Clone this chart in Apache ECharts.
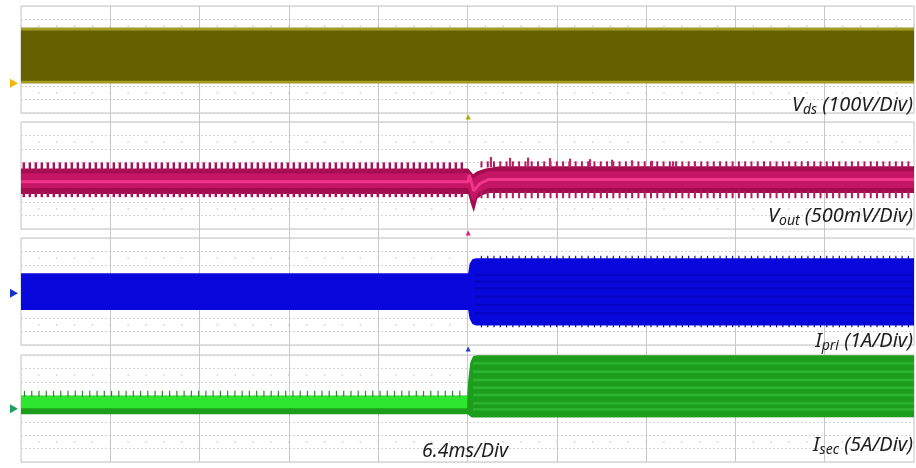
<!DOCTYPE html>
<html>
<head>
<meta charset="utf-8">
<script src="https://cdn.jsdelivr.net/npm/echarts@6/dist/echarts.min.js"></script>
<style>
html, body { margin: 0; padding: 0; background: #fff; }
#main { width: 916px; height: 468px; }
</style>
</head>
<body>
<div id="main"></div>
<script>
// time base: 10 div x 6.4 ms, load step at the trigger
var tMax = 64, tDiv = 6.4, trigT = 32.05;

// per channel: units per div and ground position (div from panel bottom)
var chLabel = ['Vds', 'Vout', 'Ipri', 'Isec'];
var perDiv = [100, 500, 1, 5];
var zeroDiv = [2.22, 3.66, 3.87, 3.98];

// Vds (V)
var vdsUp = [[0, 416], [64, 416]];
var vdsLo = [[0, 0], [64, 0]];
var vdsEdge = [405, 10];

// Vout ripple (mV around set point)
var voutUp = [[0, 430], [32.05, 430], [32.4, 220], [32.7, 330], [33.3, 430], [34.3, 520], [64, 520]];
var voutLo = [[0, -520], [32.05, -520], [32.25, -900], [32.45, -1200], [32.7, -700], [33.0, -580], [33.5, -480], [64, -480]];
var voutInUp = [[0, 250], [32.05, 250], [32.4, 60], [32.8, 200], [33.5, 330], [64, 330]];
var voutInLo = [[0, -300], [32.05, -300], [32.3, -700], [32.5, -800], [32.8, -450], [33.5, -300], [64, -300]];
var voutMid = [[0, -60], [32.05, -60], [32.12, 200], [32.45, -400], [32.9, -120], [33.5, 20], [64, 20]];
var voutBigT = [33.68, 35.05, 36.34, 37.91, 39.35, 40.78, 42.36, 43.79, 45.22, 46.73, 48.3];
var voutBigHi = [860, 830, 840, 820, 800, 780, 760, 740, 720, 700, 690];

// switching instants seen as spikes
var swBefore = [0.2, 0.63, 1.06, 1.49, 1.92, 2.35, 2.78, 3.21, 3.64, 4.07, 4.5, 4.93, 5.36, 5.79, 6.22, 6.65,
  7.08, 7.51, 7.94, 8.37, 8.8, 9.23, 9.66, 10.09, 10.52, 10.95, 11.38, 11.81, 12.24, 12.67, 13.1, 13.53,
  13.96, 14.39, 14.82, 15.25, 15.68, 16.11, 16.54, 16.97, 17.4, 17.83, 18.26, 18.69, 19.12, 19.55, 19.98,
  20.41, 20.84, 21.27, 21.7, 22.13, 22.56, 22.99, 23.42, 23.85, 24.28, 24.71, 25.14, 25.57, 26.0, 26.43,
  26.86, 27.29, 27.72, 28.15, 28.58, 29.01, 29.44, 29.87, 30.3, 30.73, 31.16, 31.59];
var swAfter = [33.0, 33.45, 33.9, 34.35, 34.8, 35.25, 35.7, 36.15, 36.6, 37.05, 37.5, 37.95, 38.4, 38.85,
  39.3, 39.75, 40.2, 40.65, 41.1, 41.55, 42.0, 42.45, 42.9, 43.35, 43.8, 44.25, 44.7, 45.15, 45.6, 46.05,
  46.5, 46.95, 47.4, 47.85, 48.3, 48.75, 49.2, 49.65, 50.1, 50.55, 51.0, 51.45, 51.9, 52.35, 52.8, 53.25,
  53.7, 54.15, 54.6, 55.05, 55.5, 55.95, 56.4, 56.85, 57.3, 57.75, 58.2, 58.65, 59.1, 59.55, 60.0, 60.45,
  60.9, 61.35, 61.8, 62.25, 62.7, 63.15, 63.6];
var isecTicks = [0.25, 0.77, 1.29, 1.81, 2.33, 2.85, 3.37, 3.89, 4.41, 4.93, 5.45, 5.97, 6.49, 7.01, 7.53,
  8.05, 8.57, 9.09, 9.61, 10.13, 10.65, 11.17, 11.69, 12.21, 12.73, 13.25, 13.77, 14.29, 14.81, 15.33,
  15.85, 16.37, 16.89, 17.41, 17.93, 18.45, 18.97, 19.49, 20.01, 20.53, 21.05, 21.57, 22.09, 22.61, 23.13,
  23.65, 24.17, 24.69, 25.21, 25.73, 26.25, 26.77, 27.29, 27.81, 28.33, 28.85, 29.37, 29.89, 30.41, 30.93, 31.45];

// Ipri (A)
var ipriUp = [[0, 1.5], [32.05, 1.5], [32.15, 2.2], [32.35, 2.55], [32.6, 2.62], [64, 2.62]];
var ipriLo = [[0, -1.25], [32.05, -1.25], [32.15, -1.9], [32.35, -2.3], [32.6, -2.41], [64, -2.41]];
var ipriStripe = [1.37, 0.87, 0.37, -0.25, -0.87, -1.5];

// Isec (A)
var isecUp = [[0, 4.86], [31.98, 4.86], [32.05, 10.6], [32.2, 17.3], [32.4, 19.6], [32.7, 20], [64, 20]];
var isecLo = [[0, -2.09], [32.0, -2.09], [32.3, -3.3], [64, -3.21]];
var isecBrightUp = [[0, 4.86], [31.98, 4.86]];
var isecBrightLo = [[0, 0.15], [31.98, 0.15]];
var isecStripe = [16.97, 13.83, 10.73, 7.85, 5.12, 2.02, -0.22];

var panelTop = [6, 122, 238, 355], panelH = 107;
var gridL = 21, gridW = 893;
var minorRows = [1.5, 6.5];

var chart = echarts.init(document.getElementById('main'));

function toDiv(ch, v) { return v / perDiv[ch] + zeroDiv[ch]; }
function pts(ch, arr) { return arr.map(function (d) { return [d[0], toDiv(ch, d[1])]; }); }

// filled envelope between upper and lower traces
function band(ch, up, lo, color, z) {
  var U = pts(ch, up), L = pts(ch, lo).reverse();
  return {
    type: 'custom', xAxisIndex: ch, yAxisIndex: ch, z: z, silent: true,
    data: [[0, 0]],
    renderItem: function (p, api) {
      var poly = U.concat(L).map(function (d) { return api.coord(d); });
      return { type: 'polygon', shape: { points: poly }, style: { fill: color } };
    }
  };
}

// straight segments [t1, v1, t2, v2]
function segs(ch, list, color, w, z) {
  return {
    type: 'custom', xAxisIndex: ch, yAxisIndex: ch, z: z, silent: true,
    data: list.map(function (s) { return [s[0], toDiv(ch, s[1]), s[2], toDiv(ch, s[3])]; }),
    encode: { x: [0, 2], y: [1, 3] },
    renderItem: function (p, api) {
      var a = api.coord([api.value(0), api.value(1)]);
      var b = api.coord([api.value(2), api.value(3)]);
      return { type: 'line', shape: { x1: a[0], y1: a[1], x2: b[0], y2: b[1] }, style: { stroke: color, lineWidth: w } };
    }
  };
}
function spikes(ch, times, base, tip) {
  return times.map(function (t, i) { return [t, base, t, Array.isArray(tip) ? tip[i] : tip]; });
}
function stripes(ch, levels, t0) {
  return levels.map(function (l) { return [t0, l, tMax, l]; });
}
function trace(ch, arr, color, w, z) {
  return {
    type: 'line', xAxisIndex: ch, yAxisIndex: ch, z: z, silent: true, symbol: 'none',
    data: pts(ch, arr), lineStyle: { color: color, width: w }
  };
}

var grids = [], xAxes = [], yAxes = [], series = [];
for (var i = 0; i < 4; i++) {
  grids.push({ left: gridL, top: panelTop[i], width: gridW, height: panelH, show: true,
    borderColor: '#c2c2c2', borderWidth: 1, backgroundColor: 'transparent' });
  xAxes.push({ gridIndex: i, type: 'value', min: 0, max: tMax, interval: tDiv, show: false });
  yAxes.push({ gridIndex: i, type: 'value', min: 0, max: 8, interval: 1,
    axisLine: { show: false }, axisTick: { show: false }, axisLabel: { show: false },
    splitLine: { show: true, lineStyle: { color: '#d4d4d4', width: 1, type: [2, 2] } } });
  minorRows.forEach(function (r) {
    series.push({ type: 'line', xAxisIndex: i, yAxisIndex: i, z: 1, silent: true, symbol: 'none',
      data: [[0, r], [tMax, r]],
      lineStyle: { color: '#c4c4c4', width: 1.3, type: [1.4, 16.46], dashOffset: 0.7 } });
  });
}
// vertical divisions run through all panels
grids.push({ left: gridL, top: panelTop[0], width: gridW, height: panelTop[3] + panelH - panelTop[0], show: false });
xAxes.push({ gridIndex: 4, type: 'value', min: 0, max: tMax, interval: tDiv,
  axisLine: { show: false }, axisTick: { show: false }, axisLabel: { show: false },
  splitLine: { show: true, showMinLine: false, showMaxLine: false, lineStyle: { color: '#c8c8c8', width: 1 } } });
yAxes.push({ gridIndex: 4, type: 'value', min: 0, max: 1, show: false });

// Vds
series.push(band(0, vdsUp, vdsLo, '#666000', 3));
series.push(trace(0, [[0, vdsEdge[0]], [tMax, vdsEdge[0]]], '#a39d22', 2.6, 4));
series.push(trace(0, [[0, vdsEdge[1]], [tMax, vdsEdge[1]]], '#a39d22', 2.6, 4));

// Vout
series.push(band(1, voutUp, voutLo, '#a30d50', 3));
series.push(band(1, voutInUp, voutInLo, '#c51565', 4));
series.push(segs(1, spikes(1, swBefore, 300, 660).concat(spikes(1, swBefore, -420, -640)), '#a8135a', 2.4, 5));
series.push(segs(1, spikes(1, swAfter, 470, 700).concat(spikes(1, swAfter, -420, -680)), '#b31b60', 2, 5));
series.push(segs(1, spikes(1, voutBigT, 480, voutBigHi), '#c02868', 2.2, 5));
series.push(trace(1, voutMid, '#f0358a', 3, 6));

// Ipri
series.push(band(2, ipriUp, ipriLo, '#0808dc', 3));
series.push(segs(2, stripes(2, ipriStripe, 32.5), '#0505c2', 2.2, 4));
series.push(segs(2, spikes(2, swAfter, 2.5, 2.8).concat(spikes(2, swAfter, -2.3, -2.55)), '#10109a', 1.2, 5));

// Isec
series.push(band(3, isecUp, isecLo, '#1c9e1c', 3));
series.push(band(3, isecBrightUp, isecBrightLo, '#2ee62e', 4));
series.push(segs(3, stripes(3, isecStripe, 32.4), '#2fb52f', 2.4, 4));
series.push(segs(3, spikes(3, isecTicks, 4.5, 6.7), '#2a8a2a', 1.2, 5));

var txtFont = '"Noto Sans", "DejaVu Sans", sans-serif';
function label(main, sub, unit, x, y) {
  return {
    type: 'text', x: x, y: y, z: 100,
    style: {
      text: '{v|' + main + '}{s|' + sub + '}{u| ' + unit + '}',
      align: 'right', verticalAlign: 'middle', fill: '#1e1e1e', fontFamily: txtFont,
      rich: {
        v: { fontSize: 20, fontStyle: 'italic', lineHeight: 24, fontFamily: txtFont, fill: '#1e1e1e' },
        s: { fontSize: 14, fontStyle: 'italic', lineHeight: 14, verticalAlign: 'bottom', fontFamily: txtFont, fill: '#1e1e1e' },
        u: { fontSize: 20, fontStyle: 'italic', lineHeight: 24, fontFamily: txtFont, fill: '#1e1e1e' }
      }
    }
  };
}

chart.setOption({
  animation: false,
  backgroundColor: '#fff',
  grid: grids,
  xAxis: xAxes,
  yAxis: yAxes,
  series: series
});

// channel markers: ground level on the left, trigger time below panels
var mkLeft = [['#f5b400', 0], ['#1a33cc', 2], ['#1fa060', 3]];
var mkTrig = [['#b0a800', 0], ['#e0207a', 1], ['#2040c0', 2]];
var gfx = [];
mkLeft.forEach(function (m) {
  var y = chart.convertToPixel({ gridIndex: m[1] }, [0, toDiv(m[1], 0)])[1];
  var x = gridL - 3;
  gfx.push({ type: 'polygon', z: 100, shape: { points: [[x - 8, y - 4.5], [x, y], [x - 8, y + 4.5]] }, style: { fill: m[0] } });
});
mkTrig.forEach(function (m) {
  var x = chart.convertToPixel({ gridIndex: m[1] }, [trigT, 0])[0];
  var yb = panelTop[m[1]] + panelH;
  gfx.push({ type: 'polygon', z: 100, shape: { points: [[x - 2.6, yb + 6.5], [x, yb + 1.5], [x + 2.6, yb + 6.5]] }, style: { fill: m[0] } });
});
gfx.push(label('V', 'ds', '(100V/Div)', 913, 105));
gfx.push(label('V', 'out', '(500mV/Div)', 913, 216));
gfx.push(label('I', 'pri', '(1A/Div)', 913, 341.5));
gfx.push(label('I', 'sec', '(5A/Div)', 913, 445));
gfx.push({ type: 'text', x: 422, y: 451, z: 100,
  style: { text: '6.4ms/Div', fontSize: 19.5, fontStyle: 'italic', fontFamily: txtFont, fill: '#1e1e1e', verticalAlign: 'middle' } });
chart.setOption({ graphic: gfx });
</script>
</body>
</html>
